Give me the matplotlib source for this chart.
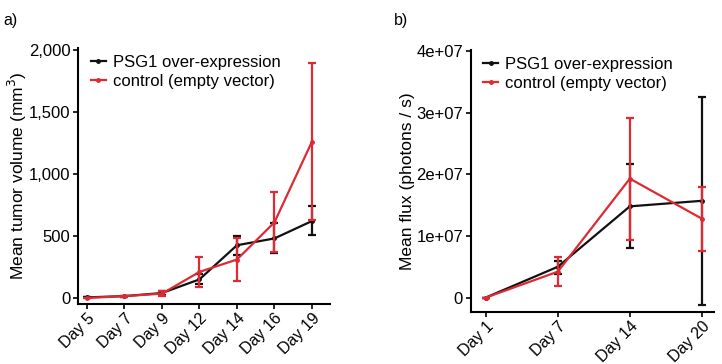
import numpy as np
import matplotlib
matplotlib.use('Agg')
import matplotlib.pyplot as plt
from matplotlib.lines import Line2D

plt.rcParams['font.family'] = ['Liberation Sans', 'DejaVu Sans']

RED = '#dd2a33'
BLACK = '#111111'

# panel a: tumour volume
days_a = ['Day 5', 'Day 7', 'Day 9', 'Day 12', 'Day 14', 'Day 16', 'Day 19']
psg1_a = [5, 15, 40, 150, 425, 480, 620]
psg1_a_lo = [0, 5, 15, 40, 80, 120, 110]
psg1_a_hi = [0, 5, 15, 45, 75, 125, 120]
ctrl_a = [0, 15, 35, 210, 310, 610, 1260]
ctrl_a_lo = [0, 5, 15, 125, 170, 240, 635]
ctrl_a_hi = [0, 5, 20, 120, 170, 245, 635]

# panel b: flux
days_b = ['Day 1', 'Day 7', 'Day 14', 'Day 20']
psg1_b = [0.0, 5.0e6, 1.48e7, 1.57e7]
psg1_b_lo = [0.0, 1.2e6, 6.8e6, 1.69e7]
psg1_b_hi = [0.0, 0.9e6, 6.9e6, 1.68e7]
ctrl_b = [0.0, 4.2e6, 1.93e7, 1.28e7]
ctrl_b_lo = [0.0, 2.4e6, 9.9e6, 5.2e6]
ctrl_b_hi = [0.0, 2.4e6, 9.9e6, 5.2e6]

labels = ['PSG1 over-expression', 'control (empty vector)']

fig = plt.figure(figsize=(7.22, 3.64), dpi=100)
ax1 = fig.add_axes([0.108, 0.165, 0.349, 0.703])
ax2 = fig.add_axes([0.652, 0.144, 0.337, 0.719])


def draw(ax, days, s1, s1lo, s1hi, s2, s2lo, s2hi):
    x = np.arange(len(days))
    ax.errorbar(x, s1, yerr=[s1lo, s1hi], color=BLACK, lw=1.6, marker='o',
                ms=2.5, capsize=3, capthick=1.6, elinewidth=1.6, zorder=2)
    ax.errorbar(x, s2, yerr=[s2lo, s2hi], color=RED, lw=1.6, marker='o',
                ms=2.5, capsize=3, capthick=1.6, elinewidth=1.6, zorder=3)
    ax.set_xticks(x)
    ax.set_xticklabels(days, rotation=45, ha='right', rotation_mode='anchor',
                       fontsize=11.5)
    for s in ['top', 'right']:
        ax.spines[s].set_visible(False)
    for s in ['left', 'bottom']:
        ax.spines[s].set_linewidth(1.5)
    ax.tick_params(width=1.2, length=3.5, labelsize=12, pad=2)
    ax.tick_params(axis='x', labelsize=11.5, pad=1.5)
    handles = [Line2D([], [], color=c, lw=1.6, marker='o', ms=2.5)
               for c in (BLACK, RED)]
    ax.legend(handles, labels, loc='upper left', frameon=False, fontsize=12,
              handlelength=0.9, handletextpad=0.4, labelspacing=0.25,
              borderaxespad=0.0, bbox_to_anchor=(0.025, 1.0))


draw(ax1, days_a, psg1_a, psg1_a_lo, psg1_a_hi, ctrl_a, ctrl_a_lo, ctrl_a_hi)
ax1.set_xlim(-0.24, 6.48)
ax1.set_ylim(-48, 2014)
ax1.set_yticks([0, 500, 1000, 1500, 2000])
ax1.set_yticklabels(['0', '500', '1,000', '1,500', '2,000'])
ax1.set_ylabel('Mean tumor volume (mm$^3$)', fontsize=12.5, labelpad=0)

draw(ax2, days_b, psg1_b, psg1_b_lo, psg1_b_hi, ctrl_b, ctrl_b_lo, ctrl_b_hi)
ax2.set_xlim(-0.21, 3.17)
ax2.set_ylim(-2.28e6, 4.02e7)
ax2.set_yticks([0, 1e7, 2e7, 3e7, 4e7])
ax2.set_yticklabels(['0', '1e+07', '2e+07', '3e+07', '4e+07'])
ax2.set_ylabel('Mean flux (photons / s)', fontsize=12.5, labelpad=1)

fig.text(0.004, 0.965, 'a)', fontsize=11.5, va='top')
fig.text(0.546, 0.965, 'b)', fontsize=11.5, va='top')

fig.savefig('out.png', dpi=100)
